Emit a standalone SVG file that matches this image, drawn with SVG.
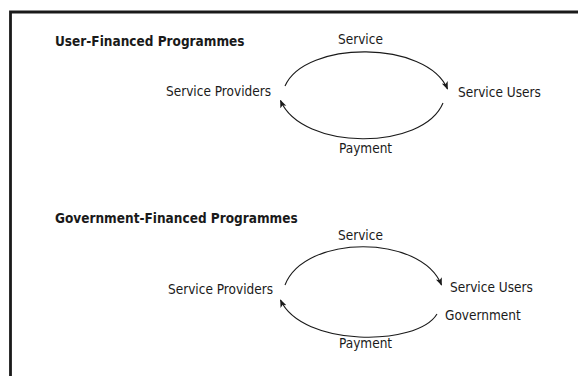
<svg xmlns="http://www.w3.org/2000/svg" width="578" height="376" viewBox="0 0 578 376">
  <style>
    .title { font-family: "DejaVu Sans Condensed", "DejaVu Sans", sans-serif; font-stretch: condensed; font-weight: bold; font-size: 13.5px; fill: #1a1a1a; }
    .label { font-family: "DejaVu Sans Condensed", "DejaVu Sans", sans-serif; font-stretch: condensed; font-size: 13.5px; fill: #1a1a1a; }
    .flow { fill: none; stroke: #1a1a1a; stroke-width: 1.1; marker-end: url(#head); }
  </style>
  <defs>
    <marker id="head" viewBox="0 0 10 10" refX="9" refY="5" markerWidth="8" markerHeight="8" markerUnits="userSpaceOnUse" orient="auto">
      <path d="M0,1 L10,5 L0,9 L2.5,5 Z" fill="#1a1a1a"/>
    </marker>
  </defs>

  <rect width="578" height="376" fill="#ffffff"/>
  <!-- frame -->
  <path d="M10.5,376 V12 H578" fill="none" stroke="#1a1a1a" stroke-width="2.8"/>

  <!-- user-financed -->
  <g id="title-user">
    <text class="title" x="55" y="46">User-Financed Programmes</text>
  </g>
  <g id="providers-1">
    <text class="label" x="166" y="96">Service Providers</text>
  </g>
  <g id="users-1">
    <text class="label" x="458" y="96.5">Service Users</text>
  </g>

  <!-- government-financed -->
  <g id="title-gov">
    <text class="title" x="55" y="223">Government-Financed Programmes</text>
  </g>
  <g id="providers-2">
    <text class="label" x="168" y="294">Service Providers</text>
  </g>
  <g id="users-2">
    <text class="label" x="450" y="292">Service Users</text>
  </g>
  <g id="government">
    <text class="label" x="445" y="320">Government</text>
  </g>

  <g id="connectors">
    <path class="flow" d="M285,86 C305,40 427,40 447.5,89"/>
    <path class="flow" d="M443,103 C423,151 302,151 280.5,100.5"/>
    <path class="flow" d="M285,285 C305,234 421,234 441.5,285"/>
    <path class="flow" d="M437,314 C417,347 302,347 280.5,300"/>
    <text class="label" x="338" y="44">Service</text>
    <text class="label" x="339" y="153">Payment</text>
    <text class="label" x="338" y="240">Service</text>
    <text class="label" x="339" y="348">Payment</text>
  </g>
</svg>
